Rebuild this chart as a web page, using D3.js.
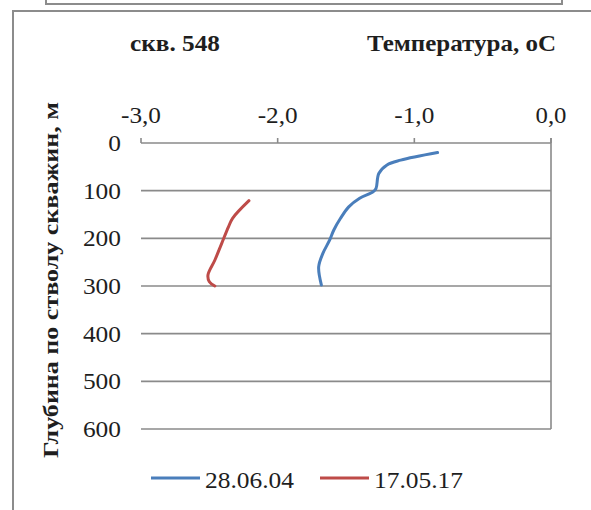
<!DOCTYPE html>
<html><head><meta charset="utf-8">
<script src="https://cdn.jsdelivr.net/npm/d3@7/dist/d3.min.js"></script>
<style>body{margin:0;background:#fff;overflow:hidden;}svg{display:block;}</style>
</head><body>
<svg id="c" width="591" height="510"></svg>
<script>
const xTicks = [-3, -2, -1, 0];
const yTicks = [0, 100, 200, 300, 400, 500, 600];
const seriesNames = ["28.06.04", "17.05.17"];
const seriesColors = ["#4A7EBB", "#BE4B48"];
const depth1 = [20, 36, 46, 64, 95, 102, 116, 134, 158, 183, 204, 232, 260, 298];
const temp1 = [-0.83, -1.10, -1.20, -1.26, -1.28, -1.30, -1.40, -1.48, -1.54, -1.59, -1.62, -1.67, -1.70, -1.68];
const depth2 = [121, 158, 176, 211, 246, 277, 291, 300];
const temp2 = [-2.21, -2.33, -2.36, -2.41, -2.46, -2.51, -2.50, -2.46];
const chartTitle = "скв. 548";
const xTitle = "Температура, оС";
const yTitle = "Глубина по стволу скважин, м";

const svg = d3.select("#c");
const x = d3.scaleLinear().domain([-3, 0]).range([141, 551]);
const y = d3.scaleLinear().domain([0, 600]).range([143, 429]);
const grid = "#8a8a8a";
const ink = "#1e1e1e";
const FONT = "Liberation Serif";

// outer frames (only the visible sides)
svg.append("path").attr("d", "M46,-5 V4 H562 V-5")
  .attr("fill", "none").attr("stroke", "#8c8c8c").attr("stroke-width", 2);
svg.append("path").attr("d", "M13,515 V11 H591")
  .attr("fill", "none").attr("stroke", "#8c8c8c").attr("stroke-width", 2);

// gridlines
svg.append("g").selectAll("line").data(yTicks).join("line")
  .attr("x1", x(-3)).attr("x2", x(0)).attr("y1", d => y(d)).attr("y2", d => y(d))
  .attr("stroke", grid).attr("stroke-width", 1.6);
// right vertical axis line
svg.append("line").attr("x1", x(0)).attr("x2", x(0)).attr("y1", y(0) - 5).attr("y2", y(600))
  .attr("stroke", grid).attr("stroke-width", 1.6);
// top ticks
svg.append("g").selectAll("line").data(xTicks).join("line")
  .attr("x1", d => x(d)).attr("x2", d => x(d)).attr("y1", y(0) - 5).attr("y2", y(0))
  .attr("stroke", grid).attr("stroke-width", 1.6);

// tick labels
svg.append("g").selectAll("text").data(xTicks).join("text")
  .attr("x", d => x(d)).attr("y", 123).attr("text-anchor", "middle")
  .attr("font-family", FONT).attr("font-size", 23).attr("fill", ink)
  .attr("textLength", d => d < 0 ? 40 : 31).attr("lengthAdjust", "spacingAndGlyphs")
  .text(d => d.toFixed(1).replace(".", ","));
svg.append("g").selectAll("text").data(yTicks).join("text")
  .attr("x", 121).attr("y", d => y(d) + 8).attr("text-anchor", "end")
  .attr("font-family", FONT).attr("font-size", 23).attr("fill", ink)
  .attr("textLength", d => String(d).length * 12.7).attr("lengthAdjust", "spacingAndGlyphs")
  .text(d => d);

// titles
svg.append("text").attr("x", 130).attr("y", 51).attr("font-family", FONT)
  .attr("font-weight", "bold").attr("font-size", 23).attr("fill", ink)
  .attr("textLength", 90).attr("lengthAdjust", "spacingAndGlyphs").text(chartTitle);
svg.append("text").attr("x", 367).attr("y", 51).attr("font-family", FONT)
  .attr("font-weight", "bold").attr("font-size", 23).attr("fill", ink)
  .attr("textLength", 189).attr("lengthAdjust", "spacingAndGlyphs").text(xTitle);
svg.append("text").attr("transform", "translate(58,458) rotate(-90)").attr("font-family", FONT)
  .attr("font-weight", "bold").attr("font-size", 21).attr("fill", ink)
  .attr("textLength", 356).attr("lengthAdjust", "spacingAndGlyphs").text(yTitle);

// series
const line = d3.line().x(d => x(d[0])).y(d => y(d[1])).curve(d3.curveCatmullRom.alpha(0.5));
const s1 = temp1.map((t, i) => [t, depth1[i]]);
const s2 = temp2.map((t, i) => [t, depth2[i]]);
[s1, s2].forEach((s, i) => {
  svg.append("path").datum(s).attr("d", line).attr("fill", "none")
    .attr("stroke", seriesColors[i]).attr("stroke-width", 3).attr("stroke-linejoin", "round").attr("stroke-linecap", "round");
});

// legend
const legX = [151, 320];
seriesNames.forEach((n, i) => {
  svg.append("line").attr("x1", legX[i]).attr("x2", legX[i] + 49).attr("y1", 478).attr("y2", 478)
    .attr("stroke", seriesColors[i]).attr("stroke-width", 3);
  svg.append("text").attr("x", legX[i] + 54).attr("y", 488).attr("font-family", FONT)
    .attr("font-size", 24).attr("fill", ink).attr("textLength", 89).attr("lengthAdjust", "spacingAndGlyphs").text(n);
});
</script>
</body></html>
